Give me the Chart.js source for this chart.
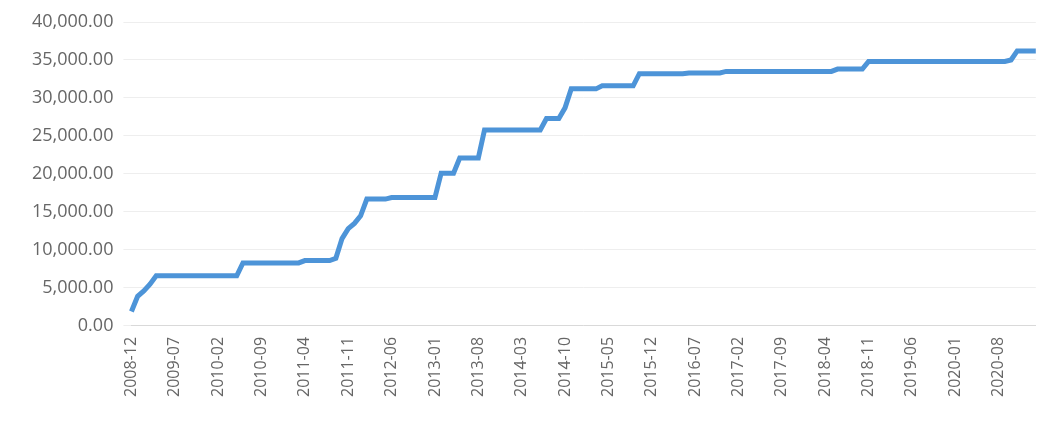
<!DOCTYPE html>
<html><head><meta charset="utf-8">
<script src="https://cdn.jsdelivr.net/npm/chart.js@4"></script>
<style>html,body{margin:0;background:#fff}#w{width:1058px;height:430px}</style>
</head><body><div id="w"><canvas id="c"></canvas></div>
<script>
const startYear = 2008, startMonth = 12, monthCount = 147;
const rep = (v, n) => Array(n).fill(v);
const values = [1900,3900,4600,5500, ...rep(6600,14), ...rep(8300,10), ...rep(8600,5),
  8900,11500,12800,13500,14500, ...rep(16700,4), ...rep(16900,8), ...rep(20100,3), ...rep(22100,4),
  ...rep(25800,10), ...rep(27300,3), 28700, ...rep(31200,5), ...rep(31600,6), ...rep(33200,8),
  ...rep(33300,6), ...rep(33500,18), ...rep(33800,5), ...rep(34800,23), 35000, ...rep(36200,4)];
const categories = [];
for (let i = 0; i < monthCount; i++) {
  const m = (startMonth - 1 + i) % 12 + 1, y = startYear + Math.floor((startMonth - 1 + i) / 12);
  categories.push(y + '-' + String(m).padStart(2, '0'));
}
const tickStep = 7;
new Chart(document.getElementById('c'), {
  type: 'line',
  data: { labels: categories, datasets: [{ data: values, borderColor: '#4d94d8', borderWidth: 5,
    pointRadius: 0, tension: 0, fill: false }] },
  options: {
    responsive: true, maintainAspectRatio: false, animation: false,
    layout: { padding: { top: 22, right: 10, left: 22, bottom: 30 } },
    plugins: { legend: { display: false }, tooltip: { enabled: false } },
    scales: {
      x: { grid: { display: false }, border: { color: '#d9d9d9' },
        ticks: { autoSkip: false, maxRotation: 90, minRotation: 90, color: '#666',
          font: { family: 'Open Sans', size: 16 },
          callback: (v, i) => i % tickStep === 0 ? categories[i] : '' } },
      y: { min: 0, max: 40000, grid: { color: '#eeeeee' }, border: { display: false },
        ticks: { stepSize: 5000, color: '#666', padding: 10, font: { family: 'Open Sans', size: 18 },
          callback: v => v.toLocaleString('en-US', { minimumFractionDigits: 2, maximumFractionDigits: 2 }) } }
    }
  }
});
</script></body></html>
